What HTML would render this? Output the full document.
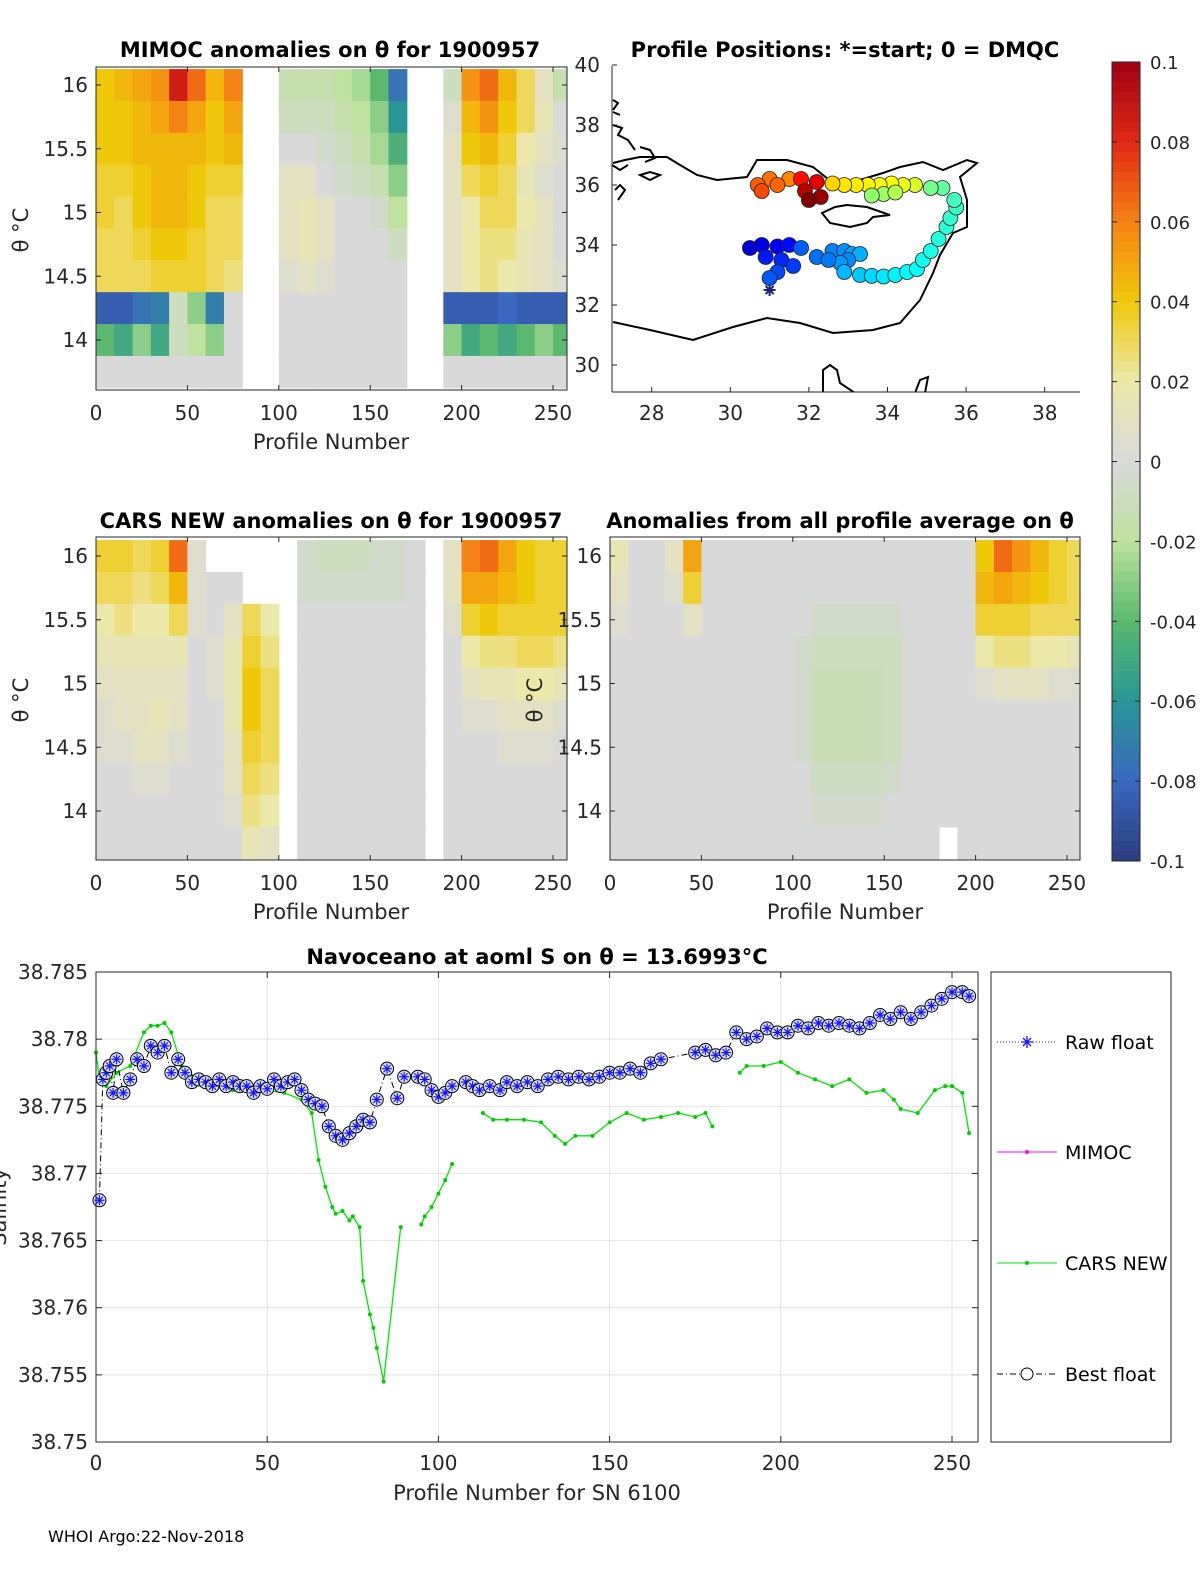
<!DOCTYPE html>
<html><head><meta charset="utf-8"><style>
body{margin:0;background:#fff;}
svg{display:block;font-family:"DejaVu Sans","Liberation Sans",sans-serif;}
</style></head><body>
<svg id="fig" width="1200" height="1575" viewBox="0 0 1200 1575" xmlns="http://www.w3.org/2000/svg">
<g id="layer"></g>
</svg>
<script>
const N=null;
// ---- heatmap data: rows = theta 16.0,15.75,...,13.75 ; cols = profile bins of 10 (0..250)
const thetaRows=[16.0,15.75,15.5,15.25,15.0,14.75,14.5,14.25,14.0,13.75];
const profBins=[0,10,20,30,40,50,60,70,80,90,100,110,120,130,140,150,160,170,180,190,200,210,220,230,240,250];
const mimocVals=[
[.04,.045,.05,.055,.085,.065,.045,.06,N,N,-.015,-.015,-.015,-.02,-.025,-.04,-.075,N,N,-.01,.055,.065,.045,.03,.01,-.015],
[.04,.04,.045,.05,.06,.05,.04,.05,N,N,-.01,-.01,-.01,-.015,-.02,-.03,-.06,N,N,.005,.045,.055,.04,.03,.015,0],
[.04,.04,.045,.045,.045,.045,.04,.045,N,N,0,0,-.005,-.01,-.015,-.025,-.045,N,N,.01,.04,.045,.035,.02,.01,.005],
[.035,.035,.04,.045,.045,.04,.035,.035,N,N,.01,.01,0,-.005,-.01,-.015,-.03,N,N,.01,.03,.035,.03,.015,.005,0],
[.035,.03,.04,.045,.045,.04,.03,.03,N,N,.01,.015,.01,0,0,-.005,-.02,N,N,.01,.02,.03,.03,.02,.01,0],
[.03,.03,.035,.04,.04,.035,.03,.03,N,N,.01,.015,.01,0,0,0,-.01,N,N,.01,.02,.025,.025,.015,.01,0],
[.03,.03,.03,.035,.035,.035,.03,.025,N,N,.005,.01,.005,0,0,0,0,N,N,.01,.02,.025,.02,.015,.01,.005],
[-.085,-.085,-.075,-.07,-.01,-.03,-.07,0,N,N,0,0,0,0,0,0,0,N,N,-.085,-.085,-.085,-.08,-.085,-.085,-.085],
[-.04,-.05,-.03,-.05,-.01,-.02,-.03,0,N,N,0,0,0,0,0,0,0,N,N,-.03,-.05,-.04,-.05,-.04,-.03,-.04],
[0,0,0,0,0,0,0,0,N,N,0,0,0,0,0,0,0,N,N,0,0,0,0,0,0,0]];
const carsVals=[
[.035,.035,.03,.035,.065,.005,N,N,N,N,N,-.005,-.01,-.01,-.01,-.005,-.005,0,N,.01,.06,.065,.05,.04,.035,.035],
[.03,.03,.025,.03,.045,.005,0,0,N,N,N,-.005,-.005,-.005,-.005,-.005,-.005,0,N,.01,.05,.05,.045,.04,.035,.035],
[.02,.025,.02,.02,.03,.005,0,.01,.03,.02,N,0,0,0,0,0,0,0,N,.005,.035,.04,.035,.035,.035,.035],
[.015,.015,.015,.015,.015,0,.005,.015,.035,.025,N,0,0,0,0,0,0,0,N,0,.02,.025,.025,.03,.03,.025],
[.01,.01,.01,.01,.01,0,.005,.015,.04,.03,N,0,0,0,0,0,0,0,N,0,.01,.015,.015,.02,.02,.015],
[.005,.01,.01,.015,.01,0,0,.015,.04,.03,N,0,0,0,0,0,0,0,N,0,.005,.005,.01,.01,.01,.005],
[.005,.005,.01,.01,.005,0,0,.01,.035,.03,N,0,0,0,0,0,0,0,N,0,0,0,.005,.005,.005,0],
[0,0,.005,.005,0,0,0,.01,.03,.025,N,0,0,0,0,0,0,0,N,0,0,0,0,0,0,0],
[0,0,0,0,0,0,0,.005,.025,.02,N,0,0,0,0,0,0,0,N,0,0,0,0,0,0,0],
[0,0,0,0,0,0,0,0,.015,.01,N,0,0,0,0,0,0,0,N,0,0,0,0,0,0,0]];
const avgVals=[
[.015,0,0,.01,.05,0,0,0,0,0,0,0,0,0,0,0,0,0,0,0,.04,.065,.055,.045,.035,.03],
[.01,0,0,.005,.035,0,0,0,0,0,0,0,0,0,0,0,0,0,0,0,.045,.05,.045,.04,.035,.03],
[.005,0,0,0,.01,0,0,0,0,0,0,-.005,-.005,-.005,-.005,-.005,0,0,0,0,.035,.035,.035,.03,.03,.03],
[0,0,0,0,0,0,0,0,0,0,-.005,-.01,-.01,-.01,-.01,-.01,0,0,0,0,.02,.025,.025,.02,.02,.015],
[0,0,0,0,0,0,0,0,0,0,-.005,-.012,-.012,-.012,-.012,-.01,0,0,0,0,.005,.01,.01,.01,.005,.005],
[0,0,0,0,0,0,0,0,0,0,-.005,-.012,-.012,-.012,-.012,-.01,0,0,0,0,0,0,0,0,0,0],
[0,0,0,0,0,0,0,0,0,0,-.005,-.012,-.012,-.012,-.012,-.01,0,0,0,0,0,0,0,0,0,0],
[0,0,0,0,0,0,0,0,0,0,0,-.008,-.008,-.008,-.008,-.005,0,0,0,0,0,0,0,0,0,0],
[0,0,0,0,0,0,0,0,0,0,0,-.004,-.004,-.004,-.004,0,0,0,0,0,0,0,0,0,0,0],
[0,0,0,0,0,0,0,0,0,0,0,0,0,0,0,0,0,0,N,0,0,0,0,0,0,0]];
// ---- map data
const mapLon=[31.0,30.5,30.8,31.2,31.5,30.9,31.3,31.6,31.2,31.0,31.8,32.2,32.6,32.9,33.1,33.3,33.0,32.8,32.5,32.9,33.3,33.6,33.9,34.2,34.5,34.75,34.9,35.1,35.3,35.5,35.6,35.75,35.7,35.4,35.1,34.7,34.4,34.1,33.8,33.5,33.2,32.9,32.6,33.9,34.2,33.6,31.5,31.0,30.7,30.8,31.2,31.8,32.2,31.9,32.3,32.0];
const mapLat=[32.5,33.9,34.0,33.95,34.0,33.6,33.5,33.3,33.1,32.9,33.9,33.6,33.8,33.8,33.7,33.7,33.5,33.4,33.5,33.1,33.0,32.97,32.95,33.0,33.1,33.2,33.5,33.8,34.2,34.6,34.9,35.25,35.5,35.9,35.9,36.0,36.0,36.05,36.0,36.0,36.0,36.0,36.05,35.7,35.75,35.65,36.2,36.2,36.0,35.8,36.0,36.2,36.1,35.8,35.6,35.5];
const mapProf=[8,22,26,30,34,38,42,46,50,54,55,60,64,68,72,76,66,70,62,78,82,86,90,93,96,98,100,102,104,106,108,110,112,120,125,150,155,158,160,162,164,166,170,135,140,132,190,195,200,205,198,220,230,240,248,255];
// ---- bottom chart data
const bestP=[1,2,3,4,5,6,8,10,12,14,16,18,20,22,24,26,28,30,32,34,36,38,40,42,44,46,48,50,52,54,56,58,60,62,64,66,68,70,72,74,76,78,80,82,85,88,90,94,96,98,100,102,104,108,110,112,115,118,120,123,126,129,132,135,138,141,144,147,150,153,156,159,162,165,175,178,181,184,187,190,193,196,199,202,205,208,211,214,217,220,223,226,229,232,235,238,241,244,247,250,253,255];
const bestS=[38.768,38.777,38.7775,38.778,38.776,38.7785,38.776,38.777,38.7785,38.778,38.7795,38.779,38.7795,38.7775,38.7785,38.7775,38.7768,38.777,38.7768,38.7765,38.777,38.7765,38.7768,38.7765,38.7765,38.776,38.7765,38.7763,38.777,38.7765,38.7768,38.777,38.7762,38.7755,38.7752,38.775,38.7735,38.7728,38.7725,38.773,38.7735,38.774,38.7738,38.7755,38.7778,38.7756,38.7772,38.7772,38.777,38.7762,38.7757,38.776,38.7765,38.7768,38.7765,38.7762,38.7765,38.7762,38.7768,38.7765,38.7768,38.7765,38.777,38.7772,38.777,38.7772,38.777,38.7772,38.7775,38.7775,38.7778,38.7775,38.7782,38.7785,38.779,38.7792,38.7788,38.779,38.7805,38.78,38.7802,38.7808,38.7805,38.7805,38.781,38.7808,38.7812,38.781,38.7812,38.781,38.7808,38.7812,38.7818,38.7815,38.782,38.7815,38.782,38.7825,38.783,38.7835,38.7835,38.7832];
const carsP=[0,1,3,6,10,14,16,18,20,22,25,30,35,40,45,50,55,60,63,65,67,69,70,72,74,75,77,78,80,81,82,84,89,90,95,96,98,100,102,104,105,113,116,120,125,130,134,137,140,145,150,155,160,165,170,175,178,180,181,188,190,195,200,205,210,215,220,225,230,233,235,240,245,248,250,253,255];
const carsS=[38.779,38.777,38.7765,38.7775,38.778,38.7805,38.781,38.781,38.7812,38.7805,38.778,38.777,38.7765,38.7762,38.776,38.7762,38.776,38.7755,38.7745,38.771,38.769,38.7675,38.767,38.7672,38.7665,38.7668,38.766,38.762,38.7595,38.7585,38.757,38.7545,38.766,N,38.7662,38.7668,38.7675,38.7685,38.7695,38.7707,N,38.7745,38.774,38.774,38.774,38.7738,38.7728,38.7722,38.7728,38.7728,38.7738,38.7745,38.774,38.7742,38.7745,38.7742,38.7745,38.7735,N,38.7775,38.778,38.778,38.7783,38.7775,38.777,38.7765,38.777,38.776,38.7762,38.7755,38.7748,38.7745,38.7762,38.7765,38.7765,38.776,38.773];
const salTicks=[38.75,38.755,38.76,38.765,38.77,38.775,38.78,38.785];
const profTicks=[0,50,100,150,200,250];
const thetaTicks=[14,14.5,15,15.5,16];
const lonTicks=[28,30,32,34,36,38];
const latTicks=[30,32,34,36,38,40];
const cbTicks=[0.1,0.08,0.06,0.04,0.02,0,-0.02,-0.04,-0.06,-0.08,-0.1];

const NS="http://www.w3.org/2000/svg";
const L=document.getElementById('layer');
function mk(tag,attrs,parent){const e=document.createElementNS(NS,tag);for(const k in attrs)e.setAttribute(k,attrs[k]);(parent||L).appendChild(e);return e;}
function txt(x,y,s,size,anchor,parent,extra){const t=mk('text',Object.assign({x:x,y:y,'font-size':size,'text-anchor':anchor||'start',fill:'#262626'},extra||{}),parent);t.textContent=s;return t;}

const cStops=[[-0.1,[43,60,128]],[-0.08,[58,104,190]],[-0.06,[40,150,150]],[-0.04,[90,185,110]],[-0.02,[190,226,160]],[0,[217,217,217]],[0.02,[236,232,170]],[0.04,[240,200,10]],[0.06,[245,130,20]],[0.08,[225,40,20]],[0.1,[160,0,20]]];
function acol(v){v=Math.max(-0.1,Math.min(0.1,v));for(let i=0;i<cStops.length-1;i++){const a=cStops[i],b=cStops[i+1];if(v<=b[0]){const t=(v-a[0])/(b[0]-a[0]);const c=a[1].map((x,j)=>Math.round(x+(b[1][j]-x)*t));return 'rgb('+c.join(',')+')';}}return 'rgb(160,0,20)';}
function jet(t){const c=x=>Math.round(255*Math.max(0,Math.min(1,x)));return 'rgb('+c(1.5-Math.abs(4*t-3))+','+c(1.5-Math.abs(4*t-2))+','+c(1.5-Math.abs(4*t-1))+')';}

function heatPanel(name,x0,x1,y0,y1,th16y,th14y,vals,clipId){
  const g=mk('g',{});  
  const sx=p=>x0+p*(553-96)/250; const sy=t=>th14y+(t-14)*(th16y-th14y)/2;
  const cp=mk('clipPath',{id:clipId},g); mk('rect',{x:x0,y:y0,width:x1-x0,height:y1-y0},cp);
  const cg=mk('g',{'clip-path':'url(#'+clipId+')'},g);
  for(let r=0;r<thetaRows.length;r++)for(let c=0;c<profBins.length;c++){const v=vals[r][c];if(v===null)continue;
    const ya=sy(thetaRows[r]+0.125),yb=sy(thetaRows[r]-0.125),xa=sx(profBins[c]),xb=sx(profBins[c]+10);
    const rc=mk('rect',{x:xa,y:ya,width:xb-xa+0.6,height:yb-ya+0.6,fill:acol(v)},cg);
    
    }
  mk('rect',{x:x0,y:y0,width:x1-x0,height:y1-y0,fill:'none',stroke:'#262626','stroke-width':1},g);
  profTicks.forEach(p=>{const x=sx(p);mk('line',{x1:x,y1:y1,x2:x,y2:y1-5,stroke:'#262626'},g);mk('line',{x1:x,y1:y0,x2:x,y2:y0+5,stroke:'#262626'},g);txt(x,y1+30,String(p),20,'middle',g);});
  thetaTicks.forEach(t=>{const y=sy(t);mk('line',{x1:x0,y1:y,x2:x0+5,y2:y,stroke:'#262626'},g);mk('line',{x1:x1,y1:y,x2:x1-5,y2:y,stroke:'#262626'},g);txt(x0-8,y+7,String(t),20,'end',g);});
  return g;
}
heatPanel('mimoc-heatmap',96,567,67,390,85,340,mimocVals,'c1');
heatPanel('cars-heatmap',96,567,537,860,556,811,carsVals,'c2');
heatPanel('average-heatmap',610,1080,537,860,556,811,avgVals,'c3');

function label(x,y,s,size,anchor,name,extra){const t=txt(x,y,s,size,anchor,null,extra);return t;}
label(330,57,'MIMOC anomalies on θ  for 1900957',21,'middle','mimoc-title',{'font-weight':'bold',fill:'#000'});
label(845,57,'Profile Positions: *=start; 0 = DMQC',21,'middle','map-title',{'font-weight':'bold',fill:'#000'});
label(331,528,'CARS NEW anomalies on θ for 1900957',21,'middle','cars-title',{'font-weight':'bold',fill:'#000'});
label(840,528,'Anomalies from all profile average on θ',21,'middle','average-title',{'font-weight':'bold',fill:'#000'});
label(331,449,'Profile Number',21,'middle','mimoc-x-title');
label(331,919,'Profile Number',21,'middle','cars-x-title');
label(845,919,'Profile Number',21,'middle','average-x-title');
label(28,230,'θ °C',21,'middle','mimoc-y-title',{transform:'rotate(-90 28 230)'});
label(28,700,'θ °C',21,'middle','cars-y-title',{transform:'rotate(-90 28 700)'});
label(542,700,'θ °C',21,'middle','average-y-title',{transform:'rotate(-90 542 700)'});

(function(){
  const g=mk('g',{});  
  const x0=612,x1=1080,y0=66,y1=392;
  const mx=lon=>651.7+(lon-28)*39.3, my=lat=>185-(lat-36)*30;
  const cp=mk('clipPath',{id:'cm'},g); mk('rect',{x:x0,y:y0,width:x1-x0,height:y1-y0},cp);
  const cg=mk('g',{'clip-path':'url(#cm)'},g);
  const coast=[
   'M613,163 L625,160 640,157 667,157 680,165 697,175 717,180 747,177 757,160 787,160 813,167 833,183 853,182 883,173 900,167 923,162 943,170 967,160 977,163 960,177 967,200 967,227 953,233 940,255 933,273 920,300 900,323 873,330 833,333 800,323 767,318 733,327 693,340 650,330 613,322',
   'M822,213 L835,207 847,205 867,207 890,215 873,217 867,223 850,227 830,223 Z',
   'M613,100 L618,103 613,110 M613,112 L620,115 M613,125 L622,128 618,135 628,140 635,150 M640,147 L650,150 655,158 645,162 M615,190 L620,185 625,190 618,200 M612,165 L620,170 628,165 M640,175 L650,172 660,175 650,180 Z',
   'M823,392 L823,370 830,365 837,370 840,383 855,393',
   'M915,393 L920,380 928,377 925,393'];
  coast.forEach(d=>{const p=mk('path',{d:d,fill:'none',stroke:'#000','stroke-width':2},cg);});
  for(let i=1;i<mapLon.length;i++){const c=mk('circle',{cx:mx(mapLon[i]),cy:my(mapLat[i]),r:7.5,fill:jet(mapProf[i]/255),stroke:'#222','stroke-width':0.8},cg);}
  const sx0=mx(mapLon[0]),sy0=my(mapLat[0]);
  const st=mk('g',{stroke:'#1a237e','stroke-width':2},cg);
  mk('line',{x1:sx0-6,y1:sy0,x2:sx0+6,y2:sy0},st);mk('line',{x1:sx0,y1:sy0-6,x2:sx0,y2:sy0+6},st);mk('line',{x1:sx0-4,y1:sy0-4,x2:sx0+4,y2:sy0+4},st);mk('line',{x1:sx0-4,y1:sy0+4,x2:sx0+4,y2:sy0-4},st);
  mk('line',{x1:x0,y1:y1,x2:x1,y2:y1,stroke:'#262626'},g);
  mk('line',{x1:x0,y1:y0,x2:x0,y2:y1,stroke:'#262626'},g);
  lonTicks.forEach(l=>{const x=mx(l);mk('line',{x1:x,y1:y1,x2:x,y2:y1-5,stroke:'#262626'},g);txt(x,y1+28,String(l),20,'middle',g);});
  latTicks.forEach(l=>{const y=my(l);mk('line',{x1:x0,y1:y,x2:x0+5,y2:y,stroke:'#262626'},g);txt(x0-12,y+7,String(l),20,'end',g);});
})();

(function(){
  const g=mk('g',{});  
  const x0=1112,w=28,yt=62,yb=861; const cy=v=>yt+(0.1-v)/0.2*(yb-yt);
  for(let v=0.1;v>-0.1+1e-9;v-=0.0025){mk('rect',{x:x0,y:cy(v),width:w,height:(yb-yt)/80+0.5,fill:acol(v-0.00125)},g);}
  mk('rect',{x:x0,y:yt,width:w,height:yb-yt,fill:'none',stroke:'#262626'},g);
  cbTicks.forEach(v=>{const y=cy(v);mk('line',{x1:x0+w,y1:y,x2:x0+w-5,y2:y,stroke:'#262626'},g);mk('line',{x1:x0,y1:y,x2:x0+5,y2:y,stroke:'#262626'},g);txt(x0+w+10,y+7,String(v),18,'start',g);});
})();

(function(){
  const g=mk('g',{});  
  const x0=96,x1=978,y0=972,y1=1442;
  const sx=p=>96+p*(952-96)/250, sy=v=>y0+(38.785-v)/0.035*(y1-y0);
  mk('rect',{x:x0,y:y0,width:x1-x0,height:y1-y0,fill:'#fff'},g);
  profTicks.forEach(p=>{const x=sx(p);mk('line',{x1:x,y1:y0,x2:x,y2:y1,stroke:'#e3e3e3'},g);mk('line',{x1:x,y1:y1,x2:x,y2:y1-6,stroke:'#262626'},g);mk('line',{x1:x,y1:y0,x2:x,y2:y0+6,stroke:'#262626'},g);txt(x,y1+28,String(p),20,'middle',g);});
  salTicks.forEach(v=>{const y=sy(v);mk('line',{x1:x0,y1:y,x2:x1,y2:y,stroke:'#e3e3e3'},g);mk('line',{x1:x0,y1:y,x2:x0+6,y2:y,stroke:'#262626'},g);mk('line',{x1:x1,y1:y,x2:x1-6,y2:y,stroke:'#262626'},g);txt(x0-8,y+7,String(v),20,'end',g);});
  let d='',pen=false;
  for(let i=0;i<carsP.length;i++){if(carsS[i]===null){pen=false;continue;}d+=(pen?'L':'M')+sx(carsP[i]).toFixed(1)+','+sy(carsS[i]).toFixed(1)+' ';pen=true;}
  const cl=mk('path',{d:d,fill:'none',stroke:'#00e600','stroke-width':1.3},g);
  for(let i=0;i<carsP.length;i++){if(carsS[i]===null)continue;const c=mk('circle',{cx:sx(carsP[i]),cy:sy(carsS[i]),r:2,fill:'#00cc00'},g);}
  let bd='';bestP.forEach((p,i)=>{bd+=(i?'L':'M')+sx(p).toFixed(1)+','+sy(bestS[i]).toFixed(1)+' ';});
  const bl=mk('path',{d:bd,fill:'none',stroke:'#000','stroke-width':1,'stroke-dasharray':'6,3,1,3'},g);
  bestP.forEach((p,i)=>{const x=sx(p),y=sy(bestS[i]);
    const m=mk('g',{},g);
    mk('circle',{cx:x,cy:y,r:6.5,fill:'#dfe3ff',stroke:'#000','stroke-width':1},m);
    mk('path',{d:`M${x-5},${y}H${x+5}M${x},${y-5}V${y+5}M${x-3.5},${y-3.5}L${x+3.5},${y+3.5}M${x-3.5},${y+3.5}L${x+3.5},${y-3.5}`,stroke:'#1515ff','stroke-width':1.2},m);});
  mk('rect',{x:x0,y:y0,width:x1-x0,height:y1-y0,fill:'none',stroke:'#262626'},g);
})();
label(537,964,'Navoceano at aoml S on θ = 13.6993°C',21,'middle','salinity-title',{'font-weight':'bold',fill:'#000'});
label(537,1500,'Profile Number for SN 6100',21,'middle','salinity-x-title');
label(6,1207,'Salinity',21,'middle','salinity-y-title',{transform:'rotate(-90 6 1207)'});
label(48,1542,'WHOI Argo:22-Nov-2018',16,'start','footer-date',{fill:'#000'});

(function(){
  const g=mk('g',{});  
  mk('rect',{x:991,y:972,width:180,height:470,fill:'#fff',stroke:'#262626'},g);
  const ent=[[1042,'Raw float'],[1152,'MIMOC'],[1263,'CARS NEW'],[1374,'Best float']];
  ent.forEach((e,i)=>{const eg=mk('g',{},g);
    const y=e[0];
    if(i===0){mk('line',{x1:997,y1:y,x2:1057,y2:y,stroke:'#1515ff','stroke-dasharray':'1,2'},eg);mk('path',{d:`M1021,${y}h12M1027,${y-6}v12M1023,${y-4}l8,8M1023,${y+4}l8,-8`,stroke:'#1515ff','stroke-width':1.3},eg);}
    if(i===1){mk('line',{x1:997,y1:y,x2:1057,y2:y,stroke:'#ff00ff'},eg);mk('circle',{cx:1027,cy:y,r:2,fill:'#ff00ff'},eg);}
    if(i===2){mk('line',{x1:997,y1:y,x2:1057,y2:y,stroke:'#00e600'},eg);mk('circle',{cx:1027,cy:y,r:2,fill:'#00cc00'},eg);}
    if(i===3){mk('line',{x1:997,y1:y,x2:1057,y2:y,stroke:'#000','stroke-dasharray':'6,3,1,3'},eg);mk('circle',{cx:1027,cy:y,r:6,fill:'#fff',stroke:'#000'},eg);}
    txt(1065,y+7,e[1],19,'start',eg,{fill:'#000'});});
})();
</script>
</body></html>
